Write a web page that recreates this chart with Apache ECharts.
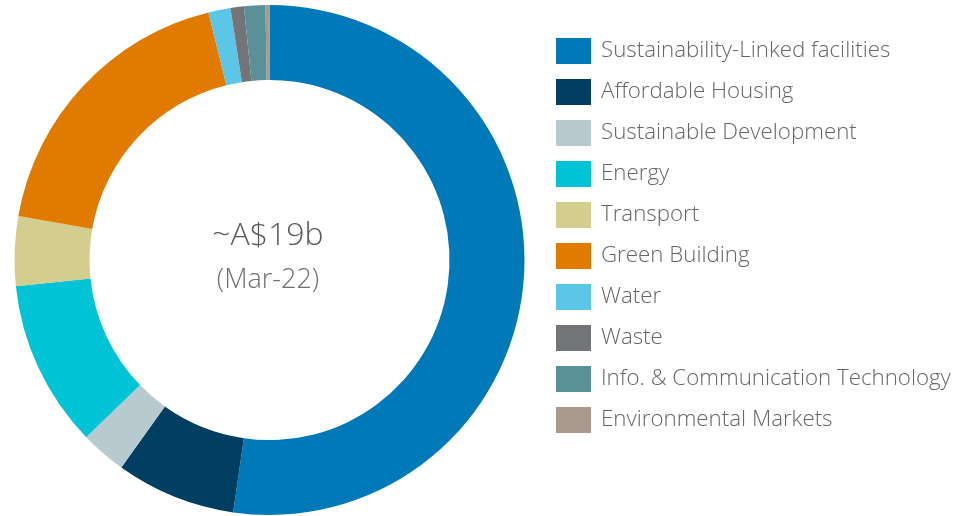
<!DOCTYPE html>
<html>
<head>
<meta charset="utf-8">
<script src="https://cdn.jsdelivr.net/npm/echarts@6/dist/echarts.min.js"></script>
<style>
html,body{margin:0;padding:0;background:#fff;}
#chart{width:959px;height:516px;}
</style>
</head>
<body>
<div id="chart"></div>
<script>
const categories = [
  "Sustainability-Linked facilities",
  "Affordable Housing",
  "Sustainable Development",
  "Energy",
  "Transport",
  "Green Building",
  "Water",
  "Waste",
  "Info. & Communication Technology",
  "Environmental Markets"
];
const values = [52.3, 7.6, 2.9, 10.6, 4.4, 18.4, 1.4, 0.85, 1.35, 0.25];
const palette = ["#0079b8", "#003f62", "#b8c9cf", "#00c4d6", "#d3cd8e", "#e07b00", "#5bc6e8", "#737478", "#5a9199", "#a89a8c"];
const centerTitle = "~A$19b";
const centerSub = "(Mar-22)";

const chart = echarts.init(document.getElementById('chart'), null, {renderer: 'canvas'});
const FONT = '"Open Sans", "Noto Sans", sans-serif';
chart.setOption({
  animation: false,
  color: palette,
  legend: {
    orient: 'vertical',
    left: 551,
    top: 33,
    itemWidth: 35,
    itemHeight: 26,
    itemGap: 15,
    icon: 'rect',
    selectedMode: false,
    data: categories,
    textStyle: {
      fontFamily: FONT,
      fontSize: 22.3,
      fontWeight: 300,
      color: '#666666',
      padding: [0, 0, 0, 5]
    }
  },
  graphic: [
    {
      type: 'text',
      x: 268, y: 236,
      style: {text: centerTitle, fontFamily: FONT, fontSize: 32, fontWeight: 300, fill: '#5a5a5a', align: 'center', verticalAlign: 'middle'}
    },
    {
      type: 'text',
      x: 268, y: 280,
      style: {text: centerSub, fontFamily: FONT, fontSize: 27, fontWeight: 300, fill: '#707070', align: 'center', verticalAlign: 'middle'}
    }
  ],
  series: [{
    type: 'pie',
    center: [269.5, 260],
    radius: [180, 255],
    startAngle: 90,
    clockwise: true,
    avoidLabelOverlap: false,
    silent: true,
    label: {show: false},
    labelLine: {show: false},
    itemStyle: {borderWidth: 0},
    data: categories.map((c, i) => ({name: c, value: values[i]}))
  }]
});
</script>
</body>
</html>
